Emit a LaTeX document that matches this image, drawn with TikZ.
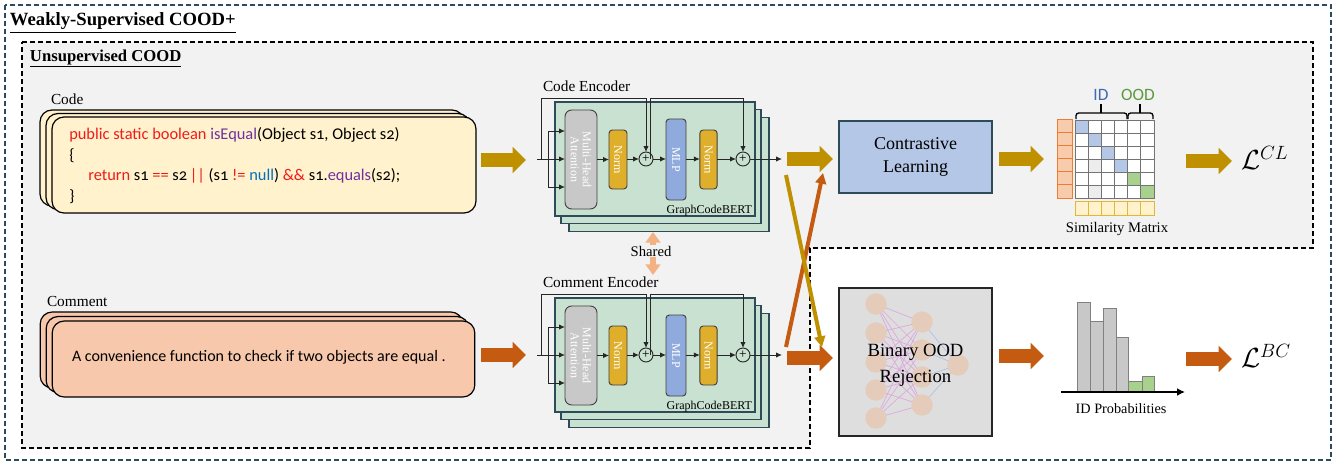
\documentclass[tikz,border=0pt]{standalone}
\usepackage{fontspec}
\setmainfont{Liberation Serif}
\newfontfamily\calibri[Numbers=OldStyle]{Carlito}
\usetikzlibrary{arrows.meta}
\definecolor{cgold}{HTML}{BF9000}
\definecolor{corange}{HTML}{C55A11}
\definecolor{codefill}{HTML}{FFF2CC}
\definecolor{comfill}{HTML}{F7C8AC}
\definecolor{bggray}{HTML}{F2F2F2}
\definecolor{encfill}{HTML}{C9E1D0}
\definecolor{encdraw}{HTML}{2E4B59}
\definecolor{mhafill}{HTML}{C8C8C8}
\definecolor{normfill}{HTML}{DFAE2A}
\definecolor{mlpfill}{HTML}{8FAADC}
\definecolor{clfill}{HTML}{B4C7E7}
\definecolor{binfill}{HTML}{DEDEDE}
\definecolor{outdash}{HTML}{2F4A5A}
\definecolor{cred}{HTML}{F01A1A}
\definecolor{cpurp}{HTML}{7030A0}
\definecolor{cblue}{HTML}{0070C0}
\definecolor{shared}{HTML}{F4B183}
\definecolor{cblu}{HTML}{B4C7E7}
\definecolor{cgrn}{HTML}{A9D18E}
\definecolor{corg}{HTML}{ED7D31}
\definecolor{cpeach}{HTML}{F8CBAD}
\definecolor{cyel}{HTML}{E3B63A}
\definecolor{idblue}{HTML}{4169B0}
\definecolor{oodgreen}{HTML}{5B9A3C}
\definecolor{nncirc}{HTML}{E5CBBA}
\definecolor{nnedge}{HTML}{DDA6DD}
\definecolor{nnedge2}{HTML}{AFC0E4}
\begin{document}
\begin{tikzpicture}[x=0.75pt,y=-0.75pt,
  every node/.style={inner sep=0pt,outer sep=0pt},
  lbl/.style={font=\fontsize{11.5}{13}\selectfont,anchor=base west},
  arr/.style={-{Latex[length=4.5pt,width=4pt]},line width=0.7pt,draw=black!85},
  blk/.style={line width=11pt,-{Triangle[length=10pt,width=19pt]}},
  xarr/.style={line width=3pt,-{Triangle[length=8pt,width=8pt]}},
  stk/.style={draw=black,line width=0.9pt,rounded corners=9pt},
  encbox/.style={draw=encdraw,fill=encfill,line width=0.8pt,minimum width=150pt,minimum height=85.5pt},
  inbox/.style={draw=black!75,line width=0.7pt,rounded corners=2.5pt,text=white,font=\fontsize{9}{10}\selectfont},
  plusn/.style={circle,draw=black!85,line width=0.7pt,minimum size=10.5pt,font=\fontsize{10}{10}\selectfont},
  dashb/.style={dash pattern=on 3.5pt off 2.5pt,line width=0.9pt},
  gridc/.style={draw=black!55,line width=0.6pt},
  nn/.style={circle,fill=nncirc,minimum size=16pt}
]
\useasboundingbox (0,0) rectangle (1340,464);
% outer region
\draw[dashb,draw=outdash] (5,5) rectangle (1331,460);
\node[anchor=base west,font=\fontsize{14}{16}\selectfont\bfseries] (title) at (10,26) {\underline{Weakly-Supervised COOD+}};
% inner region
\fill[bggray] (22,42) -- (1313,42) -- (1313,248) -- (810,248) -- (810,448) -- (22,448) -- cycle;
\draw[dashb,draw=black] (22,42) -- (1313,42) -- (1313,248) -- (810,248) -- (810,448) -- (22,448) -- cycle;
\node[anchor=base west,font=\fontsize{12.5}{14}\selectfont\bfseries] (subtitle) at (30,61) {\underline{Unsupervised COOD}};

% code input
\node[lbl] (codelbl) at (51,104) {Code};
\node[stk,fill=codefill,minimum width=318pt,minimum height=72pt] (code3) at (252,158) {};
\node[stk,fill=codefill,minimum width=318pt,minimum height=72pt] (code2) at (258,161.5) {};
\node[stk,fill=codefill,minimum width=318pt,minimum height=72pt] (code) at (264,165) {};
\begin{scope}[every node/.style={anchor=base west,font=\calibri\fontsize{12.3}{14}\selectfont,inner sep=0pt}]
\node (cl1) at (69,139) {\textcolor{cred}{public static boolean} \textcolor{cpurp}{isEqual}(Object s1, Object s2)};
\node (cl2) at (69,160) {\{};
\node (cl3) at (88,180) {\textcolor{cred}{return} s1 \textcolor{cred}{==} s2\,\textcolor{cred}{||}\ (s1 \textcolor{cred}{!=} \textcolor{cblue}{null}) \textcolor{cred}{\&\&} s1.\textcolor{cpurp}{equals}(s2);};
\node (cl4) at (69,201) {\}};
\end{scope}

% comment input
\node[lbl] (comlbl) at (47,306) {Comment};
\node[stk,fill=comfill,minimum width=317pt,minimum height=57pt] (com3) at (251.5,350) {};
\node[stk,fill=comfill,minimum width=317pt,minimum height=57pt] (com2) at (257.5,354.5) {};
\node[stk,fill=comfill,minimum width=317pt,minimum height=57pt] (com) at (263.5,359) {};
\node[anchor=base west,font=\calibri\fontsize{12}{14}\selectfont] (comtxt) at (72,361) {A convenience function to check if two objects are equal .};

% block arrows into encoders
\coordinate (ga1) at (481,160); \coordinate (ga2) at (526,160);
\draw[blk,draw=cgold] (ga1) -- (ga2);
\coordinate (oa1) at (481,355); \coordinate (oa2) at (526,355);
\draw[blk,draw=corange] (oa1) -- (oa2);

% encoders
\foreach \p/\dy/\lab in {ce/0/Code Encoder,me/196/Comment Encoder}{
\begin{scope}[shift={(0,\dy)}]
\node[lbl] (\p-lab) at (543,91) {\lab};
\node[encbox] (\p-b3) at (669,174.5) {};
\node[encbox] (\p-b2) at (661,166.5) {};
\node[encbox] (\p-b1) at (655,159) {};
\node[anchor=base east,font=\fontsize{9}{10}\selectfont] (\p-gcb) at (752,213) {GraphCodeBERT};
\node[inbox,fill=mhafill,rounded corners=5pt,minimum width=24pt,minimum height=74.25pt] (\p-mha) at (581,159.5)
  {\rotatebox{-90}{\shortstack{Multi-Head\\Attention}}};
\node[inbox,fill=normfill,minimum width=13.5pt,minimum height=44.25pt] (\p-n1) at (618,159.5) {\rotatebox{-90}{Norm}};
\node[plusn] (\p-p1) at (646,159) {+};
\node[inbox,fill=mlpfill,minimum width=15pt,minimum height=60.75pt] (\p-mlp) at (676,159.5) {\rotatebox{-90}{MLP}};
\node[inbox,fill=normfill,minimum width=13pt,minimum height=44.25pt] (\p-n2) at (708.5,159.5) {\rotatebox{-90}{Norm}};
\node[plusn] (\p-p2) at (743,159) {+};
\coordinate (\p-in) at (537,159);
\coordinate (\p-br) at (548,159);
\coordinate (\p-bt) at (548,131);
\coordinate (\p-bb) at (548,187);
\coordinate (\p-s1) at (541,159);
\coordinate (\p-s1t) at (541,98);
\coordinate (\p-s2) at (650,159);
\coordinate (\p-out) at (782,159);
\draw[arr] (\p-in) -- (\p-in -| \p-mha.west);
\draw[arr] (\p-br) -- (\p-bt) -- (\p-bt -| \p-mha.west);
\draw[arr] (\p-br) -- (\p-bb) -- (\p-bb -| \p-mha.west);
\draw[arr] (\p-s1) -- (\p-s1t) -| (\p-p1.north);
\draw[arr] (\p-s2) -- (\p-s2 |- \p-s1t) -| (\p-p2.north);
\draw[arr] (\p-mha.east |- \p-n1) -- (\p-n1.west);
\draw[arr] (\p-n1.east |- \p-p1) -- (\p-p1.west);
\draw[arr] (\p-p1.east) -- (\p-mlp.west |- \p-p1);
\draw[arr] (\p-mlp.east |- \p-p1) -- (\p-n2.west |- \p-p1);
\draw[arr] (\p-n2.east |- \p-p1) -- (\p-p2.west);
\draw[arr] (\p-p2.east) -- (\p-out);
\end{scope}
}

% shared arrow
\coordinate (sh1) at (653,232); \coordinate (sh2) at (653,275);
\draw[draw=shared,line width=4.5pt,{Triangle[length=8pt,width=11pt]}-{Triangle[length=8pt,width=11pt]}] (sh1) -- (sh2);
\node[fill=bggray,inner sep=1pt,font=\fontsize{11}{12}\selectfont] (sharedlbl) at (651,251) {Shared};

% contrastive learning
\node[draw=encdraw,line width=0.9pt,fill=clfill,minimum width=114.75pt,minimum height=54pt,align=center,
  font=\fontsize{13.5}{17}\selectfont] (cl) at (915.5,157) {Contrastive\\Learning};
% binary OOD rejection
\node[draw=black!85,line width=0.9pt,fill=binfill,minimum width=114.75pt,minimum height=111pt] (bin) at (915.5,362) {};
\foreach \i/\y in {1/304,2/333,3/362,4/390,5/418}{\coordinate (nin\i) at (876,\y);}
\foreach \j/\y in {1/322,2/350,3/377,4/405}{\coordinate (nh\j) at (922,\y);}
\coordinate (nout) at (958,365);
\foreach \i in {1,...,5}{\foreach \j in {1,...,4}{\draw[nnedge,line width=0.5pt] (nin\i) -- (nh\j);}}
\foreach \j in {1,...,4}{\draw[nnedge2,line width=0.5pt] (nh\j) -- (nout);}
\foreach \i in {1,...,5}{\node[nn] (cin\i) at (nin\i) {};}
\foreach \j in {1,...,4}{\node[nn] (ch\j) at (nh\j) {};}
\node[nn] (cout) at (nout) {};
\node[align=center,font=\fontsize{14}{19.5}\selectfont] (bintxt) at (915.5,365) {Binary OOD\\Rejection};

% arrows to heads
\coordinate (g3a) at (787,159); \coordinate (g3b) at (833,159);
\draw[blk,draw=cgold] (g3a) -- (g3b);
\coordinate (o3a) at (787,358); \coordinate (o3b) at (833,358);
\draw[blk,draw=corange] (o3a) -- (o3b);
\coordinate (xo1) at (786,347); \coordinate (xo2) at (823,173);
\draw[xarr,draw=corange] (xo1) -- (xo2);
\coordinate (xg1) at (786,175); \coordinate (xg2) at (822,347);
\draw[xarr,draw=cgold] (xg1) -- (xg2);
\coordinate (g4a) at (999,159); \coordinate (g4b) at (1044,159);
\draw[blk,draw=cgold] (g4a) -- (g4b);
\coordinate (o4a) at (999,356); \coordinate (o4b) at (1044,356);
\draw[blk,draw=corange] (o4a) -- (o4b);

% similarity matrix
\foreach \r in {0,...,5}{
  \draw[draw=corg,fill=cpeach,line width=0.7pt] (1057,{119+\r*13.17}) rectangle ++(15,13.17);
  \draw[draw=cyel,fill=codefill,line width=0.7pt] ({1075+\r*13.17},201) rectangle ++(13.17,14);
  \foreach \c in {0,...,5}{\draw[gridc,fill=white] ({1075+\c*13.17},{120+\r*13}) rectangle ++(13.17,13);}
}
\foreach \i/\col in {0/cblu,1/cblu,2/cblu,3/cblu,4/cgrn,5/cgrn}{
  \draw[gridc,fill=\col] ({1075+\i*13.17},{120+\i*13}) rectangle ++(13.17,13);}
\draw[gridc,fill=black!7] ({1075+13.17},{120+3*13}) rectangle ++(13.17,13);
\draw[gridc,fill=black!7] ({1075+13.17},{120+5*13}) rectangle ++(13.17,13);
\draw[line width=1pt,rounded corners=2pt] (1076,119) -- (1076,113) -- (1127,113) -- (1127,119);
\draw[line width=1pt] (1101,113) -- (1101,104);
\draw[line width=1pt,rounded corners=2pt] (1128,119) -- (1128,113) -- (1153,113) -- (1153,119);
\draw[line width=1pt] (1140,113) -- (1140,104);
\node[anchor=base,font=\calibri\fontsize{13}{14}\selectfont,text=idblue] (idl) at (1101,100.5) {ID};
\node[anchor=base,font=\calibri\fontsize{13}{14}\selectfont,text=oodgreen] (oodl) at (1138,100.5) {OOD};
\node[anchor=base,font=\fontsize{11}{12}\selectfont] (simlbl) at (1117,232.5) {Similarity Matrix};

% histogram
\foreach \xa/\xb/\t/\col in {1077/1090/302/mhafill,1090/1103/321/mhafill,1103/1116/308/mhafill,1116/1128/337/mhafill,1128/1142/381/cgrn,1142/1154/376/cgrn}{
  \draw[draw=black!50,line width=0.7pt,fill=\col] (\xa,392) rectangle (\xb,\t);}
\draw[line width=1.5pt,-{Latex[length=6pt,width=6pt]}] (1061,392) -- (1185,392);
\node[anchor=base,font=\fontsize{10.7}{12}\selectfont] (idprob) at (1121,413) {ID Probabilities};

% losses
\coordinate (g5a) at (1186,161); \coordinate (g5b) at (1232,161);
\draw[blk,draw=cgold] (g5a) -- (g5b);
\coordinate (o5a) at (1186,359); \coordinate (o5b) at (1232,359);
\draw[blk,draw=corange] (o5a) -- (o5b);
\node[anchor=west,font=\fontsize{21}{25}\selectfont] (lcl) at (1241,158) {$\mathcal{L}^{CL}$};
\node[anchor=west,font=\fontsize{21}{25}\selectfont] (lbc) at (1241,356) {$\mathcal{L}^{BC}$};
\end{tikzpicture}
\end{document}
